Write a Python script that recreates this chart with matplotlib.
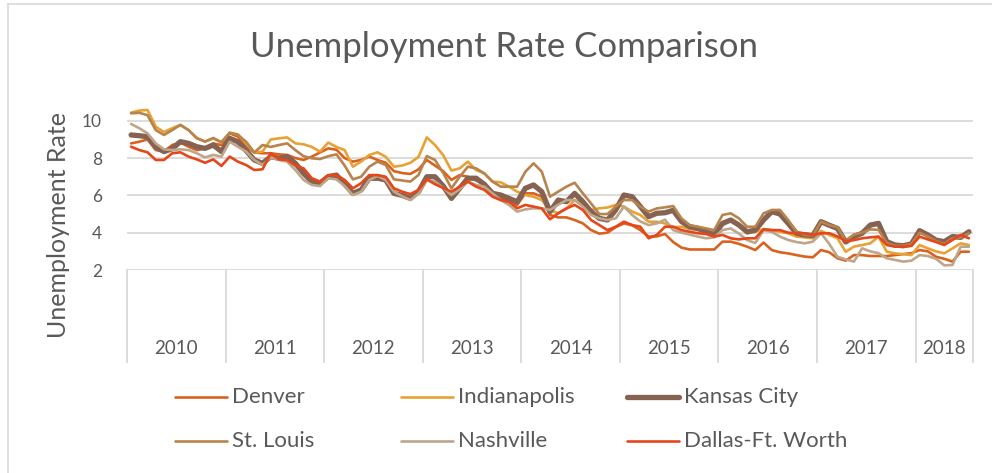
import matplotlib
matplotlib.use("Agg")
import matplotlib.pyplot as plt
from matplotlib.lines import Line2D
import matplotlib.transforms as mtransforms
import numpy as np

plt.rcParams['font.family'] = ['Lato', 'DejaVu Sans']

years = ["2010", "2011", "2012", "2013", "2014", "2015", "2016", "2017", "2018"]
months_per_year = [12, 12, 12, 12, 12, 12, 12, 12, 7]

denver = [8.79, 8.88, 9.0, 8.43, 8.35, 8.7, 8.83, 8.61, 8.43, 8.52, 8.79, 8.7,
          9.33, 9.15, 8.6, 8.3, 8.26, 8.26, 8.2, 8.17, 8.0, 7.9, 8.08, 8.3,
          8.52, 8.45, 8.0, 7.81, 7.9, 8.08, 7.9, 7.75, 7.3, 7.2, 7.15, 7.4,
          7.9, 7.6, 7.3, 6.83, 7.09, 7.0, 6.8, 6.6, 6.2, 5.84, 5.66, 5.49,
          6.11, 6.11, 5.93, 4.95, 4.82, 4.82, 4.68, 4.5, 4.14, 3.95, 4.0, 4.3,
          4.5, 4.4, 4.14, 3.79, 3.8, 3.93, 3.5, 3.2, 3.1, 3.1, 3.1, 3.1,
          3.52, 3.52, 3.4, 3.25, 3.07, 3.47, 3.07, 2.95, 2.89, 2.8, 2.72, 2.68,
          3.07, 2.95, 2.63, 2.5, 2.8, 2.8, 2.75, 2.75, 2.75, 2.8, 2.85, 2.9,
          3.07, 3.0, 2.71, 2.6, 2.45, 2.98, 2.98]
indianapolis = [10.44, 10.55, 10.58, 9.68, 9.4, 9.6, 9.78, 9.5, 9.05, 8.9, 9.05, 8.85,
                9.36, 9.28, 8.79, 8.3, 8.35, 9.0, 9.06, 9.11, 8.79, 8.74, 8.6, 8.35,
                8.83, 8.6, 8.43, 7.54, 7.81, 8.17, 8.31, 8.07, 7.54, 7.6, 7.75, 8.07,
                9.11, 8.7, 8.16, 7.33, 7.45, 7.81, 7.36, 7.18, 6.74, 6.7, 6.47, 6.2,
                6.02, 5.93, 5.75, 5.22, 5.04, 5.3, 5.75, 5.57, 5.22, 5.31, 5.35, 5.49,
                5.4, 5.13, 4.95, 4.59, 4.59, 4.5, 4.3, 4.32, 4.2, 4.14, 4.05, 3.96,
                4.4, 4.65, 4.36, 3.96, 4.05, 4.2, 4.14, 4.05, 3.97, 3.79, 3.75, 3.7,
                4.1, 3.88, 3.7, 2.98, 3.25, 3.34, 3.43, 3.79, 2.98, 2.89, 2.85, 2.8,
                3.34, 3.16, 3.0, 2.89, 3.16, 3.43, 3.34]
kansas_city = [9.24, 9.2, 9.15, 8.61, 8.35, 8.5, 8.88, 8.79, 8.61, 8.52, 8.7, 8.35,
               9.06, 8.88, 8.4, 7.9, 7.72, 8.08, 7.99, 8.08, 7.72, 7.18, 6.74, 6.65,
               7.0, 7.09, 6.6, 6.11, 6.29, 6.92, 6.92, 6.83, 6.11, 6.0, 5.84, 6.2,
               7.0, 7.0, 6.5, 5.84, 6.38, 6.92, 6.92, 6.6, 6.11, 6.02, 5.84, 5.66,
               6.38, 6.56, 6.2, 5.13, 5.75, 5.66, 6.11, 5.66, 5.13, 4.77, 4.68, 5.22,
               6.02, 5.93, 5.4, 4.86, 5.04, 5.07, 5.2, 4.6, 4.32, 4.23, 4.05, 3.9,
               4.5, 4.68, 4.41, 4.05, 4.14, 4.68, 5.13, 5.0, 4.5, 3.97, 3.88, 3.85,
               4.59, 4.4, 4.23, 3.5, 3.79, 3.97, 4.41, 4.5, 3.52, 3.34, 3.3, 3.4,
               4.11, 3.88, 3.6, 3.52, 3.79, 3.75, 4.05]
st_louis = [10.4, 10.43, 10.3, 9.5, 9.24, 9.5, 9.78, 9.5, 9.08, 8.88, 9.08, 8.85,
            9.36, 9.24, 8.88, 8.3, 8.7, 8.6, 8.7, 8.79, 8.43, 8.1, 7.99, 7.95,
            8.1, 8.2, 7.6, 6.86, 7.0, 7.54, 7.81, 7.63, 6.86, 6.8, 6.74, 7.1,
            8.11, 7.9, 7.2, 6.38, 7.0, 7.54, 7.45, 7.18, 6.74, 6.47, 6.47, 6.47,
            7.27, 7.72, 7.27, 5.93, 6.2, 6.47, 6.68, 6.11, 5.57, 5.0, 5.0, 5.4,
            5.75, 5.75, 5.4, 5.13, 5.3, 5.36, 5.43, 4.77, 4.41, 4.32, 4.23, 4.14,
            4.95, 5.04, 4.77, 4.32, 4.32, 5.04, 5.22, 5.22, 4.68, 4.05, 3.88, 3.85,
            4.59, 4.41, 4.3, 3.55, 3.9, 4.0, 4.18, 4.15, 3.45, 3.3, 3.3, 3.4,
            4.0, 3.8, 3.55, 3.4, 3.7, 3.75, 3.96]
nashville = [9.83, 9.6, 9.33, 8.79, 8.47, 8.43, 8.47, 8.43, 8.26, 8.04, 8.17, 8.08,
             8.88, 8.61, 8.35, 7.9, 7.63, 8.04, 7.9, 7.81, 7.36, 6.83, 6.56, 6.5,
             6.92, 6.86, 6.5, 6.02, 6.2, 6.83, 7.04, 6.83, 6.2, 5.95, 5.75, 6.1,
             6.83, 6.74, 6.4, 6.02, 6.33, 6.74, 6.56, 6.47, 6.11, 5.75, 5.49, 5.13,
             5.25, 5.31, 5.31, 5.22, 5.5, 5.75, 5.75, 5.4, 4.95, 4.77, 4.68, 4.77,
             5.4, 4.95, 4.6, 4.41, 4.5, 4.7, 4.14, 4.0, 3.9, 3.79, 3.7, 3.75,
             4.14, 4.23, 3.95, 3.6, 3.45, 4.14, 4.05, 3.79, 3.61, 3.5, 3.43, 3.52,
             3.97, 3.4, 2.71, 2.57, 2.45, 3.16, 3.0, 2.9, 2.63, 2.54, 2.45, 2.5,
             2.8, 2.75, 2.6, 2.25, 2.27, 3.25, 3.25]
dallas = [8.61, 8.43, 8.31, 7.9, 7.9, 8.26, 8.31, 8.08, 7.93, 7.75, 7.93, 7.58,
          8.08, 7.81, 7.63, 7.36, 7.4, 8.26, 7.93, 7.9, 7.6, 7.45, 6.92, 6.74,
          7.09, 7.09, 6.83, 6.38, 6.65, 7.09, 7.09, 7.0, 6.38, 6.2, 6.07, 6.3,
          6.86, 6.6, 6.4, 6.2, 6.47, 6.74, 6.47, 6.3, 5.93, 5.75, 5.66, 5.31,
          5.49, 5.4, 5.3, 4.72, 5.04, 5.3, 5.49, 5.22, 4.68, 4.41, 4.14, 4.32,
          4.59, 4.41, 4.32, 3.7, 3.88, 4.32, 4.32, 4.14, 4.05, 3.97, 3.93, 3.79,
          3.88, 3.7, 3.64, 3.7, 3.7, 4.18, 4.14, 4.14, 4.0, 3.97, 3.97, 3.88,
          3.97, 3.97, 3.8, 3.55, 3.6, 3.7, 3.75, 3.79, 3.34, 3.25, 3.25, 3.29,
          3.79, 3.64, 3.5, 3.34, 3.61, 3.88, 3.7]

series_names = ["Denver", "Indianapolis", "Kansas City", "St. Louis", "Nashville", "Dallas-Ft. Worth"]
series_values = [denver, indianapolis, kansas_city, st_louis, nashville, dallas]
colors = ["#D9621F", "#E8A135", "#856251", "#B8834C", "#BDA689", "#E5461A"]
widths = [1.9, 1.9, 3.8, 1.9, 1.9, 1.9]

W, H = 992, 473
fig = plt.figure(figsize=(W / 100, H / 100), dpi=100)
fig.patch.set_facecolor("white")

# outer chart border
fig.add_artist(Line2D([8 / W, 8 / W], [0, 1 - 4 / H], color="#D9D9D9", lw=1.2))
fig.add_artist(Line2D([8 / W, 1], [1 - 4 / H, 1 - 4 / H], color="#D9D9D9", lw=1.2))

left, right, bottom, top = 127, 973, 270, 102
ax = fig.add_axes([left / W, 1 - bottom / H, (right - left) / W, (bottom - top) / H])
n = sum(months_per_year)
ax.set_xlim(0, n)
ymax = 2 + (bottom - top) / 18.65
ax.set_ylim(2, ymax)
for s in ax.spines.values():
    s.set_visible(False)
ax.set_yticks([2, 4, 6, 8, 10])
ax.set_yticklabels(["2", "4", "6", "8", "10"])
ax.tick_params(axis="y", length=0, pad=18, labelsize=12.5, labelcolor="#595959")
ax.set_xticks([])
for v in [2, 4, 6, 8, 10]:
    ax.axhline(v, color="#D9D9D9", lw=1.3, zorder=0)

x = np.arange(n) + 0.5
for name, vals, c, w in zip(series_names, series_values, colors, widths):
    ax.plot(x, vals, color=c, lw=w, solid_joinstyle="round", solid_capstyle="round")

# year separators and labels
trans = mtransforms.blended_transform_factory(ax.transData, ax.transAxes)
sep_depth = (362 - bottom) / (bottom - top)
bounds = np.concatenate([[0], np.cumsum(months_per_year)])
for b in bounds:
    ax.plot([b, b], [0, -sep_depth], transform=trans, color="#D9D9D9", lw=1.3, clip_on=False)
lab_y = -(348 - bottom) / (bottom - top)
for i, yr in enumerate(years):
    ax.text((bounds[i] + bounds[i + 1]) / 2, lab_y, yr, transform=trans, ha="center", va="center",
            fontsize=13.5, color="#595959")

fig.text(0.5 * (247 + 762) / W, 1 - 47 / H, "Unemployment Rate Comparison", ha="center", va="center",
         fontsize=25, color="#595959")
fig.text(59 / W, 1 - 225 / H, "Unemployment Rate", rotation=90, ha="center", va="center",
         fontsize=18, color="#595959")

# legend
col_x = [175, 401, 627]
row_y = [397, 441]
for i, (name, c, w) in enumerate(zip(series_names, colors, widths)):
    r, cc = divmod(i, 3)
    x0 = col_x[cc]
    yy = 1 - row_y[r] / H
    fig.add_artist(Line2D([x0 / W, (x0 + 52) / W], [yy, yy], color=c, lw=w, solid_capstyle="round"))
    fig.text((x0 + 57) / W, yy, name, ha="left", va="center", fontsize=16, color="#595959")

fig.savefig("out.png", dpi=100)
